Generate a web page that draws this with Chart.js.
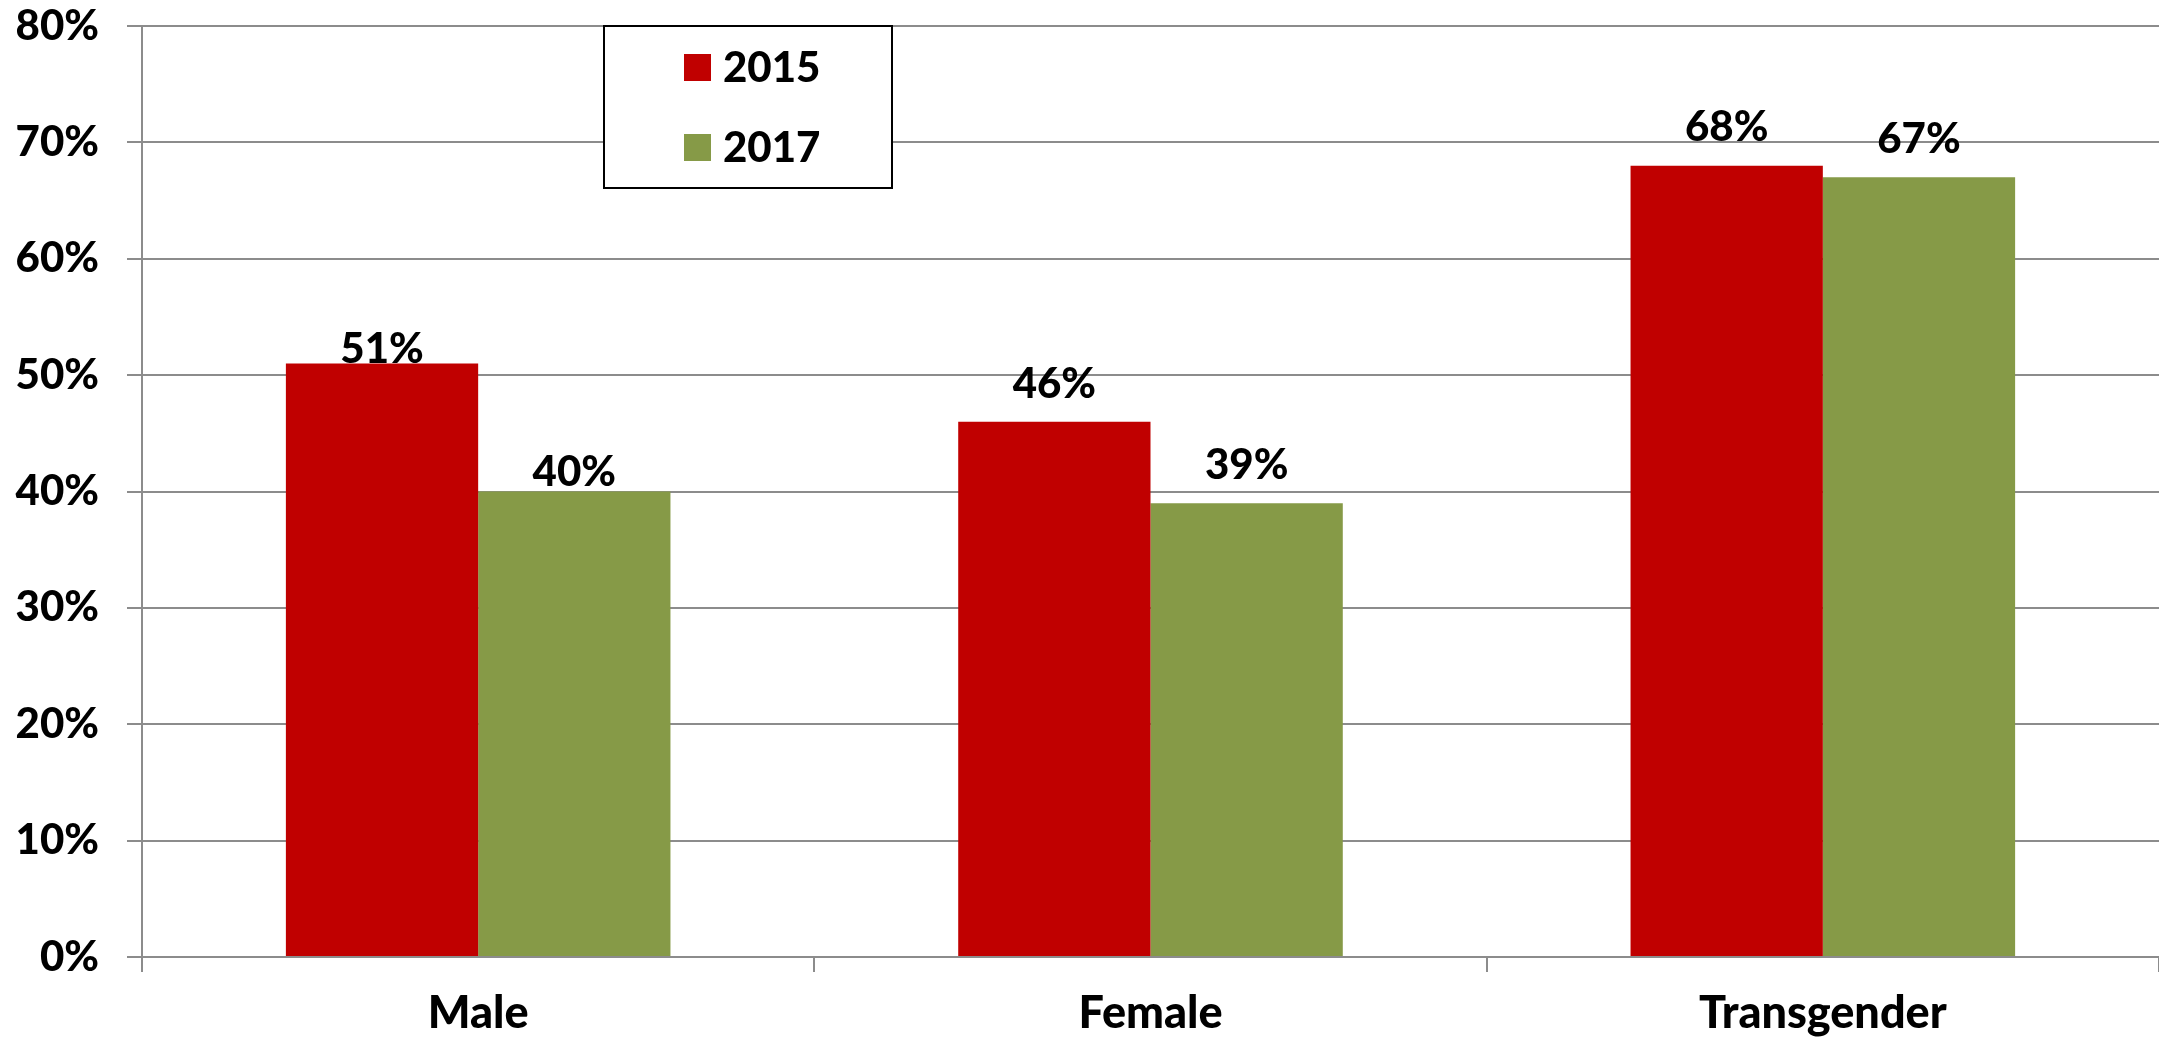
<!DOCTYPE html>
<html>
<head>
<meta charset="utf-8">
<script src="https://cdn.jsdelivr.net/npm/chart.js@4"></script>
<style>
  html, body { margin: 0; padding: 0; background: #fff; }
  #wrap { width: 2159px; height: 1041px; position: relative; }
</style>
</head>
<body>
<div id="wrap"><canvas id="chart"></canvas></div>
<script>
// data
const categories = ["Male", "Female", "Transgender"];
const series2015 = [51, 46, 68];
const series2017 = [40, 39, 67];
const seriesNames = ["2015", "2017"];
const yTicks = [0, 10, 20, 30, 40, 50, 60, 70, 80];

const FONT = "Lato, 'Open Sans', sans-serif";
const WEIGHT = "900";
const SIZE = 42;
const GRID = "#8c8c8c";

// value labels above each bar (Excel placed them a bit unevenly)
const valueLabels = {
  id: "valueLabels",
  afterDatasetsDraw(chart, args, opts) {
    const ctx = chart.ctx;
    ctx.save();
    ctx.font = WEIGHT + " " + SIZE + "px " + FONT;
    ctx.fillStyle = "#000";
    ctx.textAlign = "center";
    ctx.textBaseline = "alphabetic";
    chart.data.datasets.forEach((ds, di) => {
      const meta = chart.getDatasetMeta(di);
      meta.data.forEach((bar, i) => {
        const lift = opts.lift[di][i];
        ctx.fillText(ds.data[i] + "%", bar.x, bar.y - lift);
      });
    });
    ctx.restore();
  }
};

// boxed legend floating inside the plot, as in the original
const boxLegend = {
  id: "boxLegend",
  afterDraw(chart, args, opts) {
    const ctx = chart.ctx;
    const b = opts.box;
    ctx.save();
    ctx.fillStyle = "#fff";
    ctx.fillRect(b.x, b.y, b.w, b.h);
    ctx.strokeStyle = "#000";
    ctx.lineWidth = 2;
    ctx.strokeRect(b.x, b.y, b.w, b.h);
    ctx.font = WEIGHT + " " + SIZE + "px " + FONT;
    ctx.textBaseline = "middle";
    ctx.textAlign = "left";
    chart.data.datasets.forEach((ds, i) => {
      const cy = b.y + opts.rows[i];
      ctx.fillStyle = ds.backgroundColor;
      ctx.fillRect(b.x + 80, cy - 13, 27, 27);
      ctx.fillStyle = "#000";
      ctx.fillText(ds.label, b.x + 119, cy + 1);
    });
    ctx.restore();
  }
};

new Chart(document.getElementById("chart"), {
  type: "bar",
  data: {
    labels: categories,
    datasets: [
      { label: seriesNames[0], data: series2015, backgroundColor: "#c00000", borderWidth: 0 },
      { label: seriesNames[1], data: series2017, backgroundColor: "#869a47", borderWidth: 0 }
    ]
  },
  options: {
    responsive: true,
    maintainAspectRatio: false,
    animation: false,
    layout: { padding: { top: 26, right: 0, left: 0, bottom: 0 } },
    datasets: {
      bar: { categoryPercentage: 0.572, barPercentage: 1.0 }
    },
    plugins: {
      legend: { display: false },
      tooltip: { enabled: false },
      valueLabels: { lift: [[0, 24, 25], [6, 24, 24]] },
      boxLegend: { box: { x: 604, y: 26, w: 288, h: 162 }, rows: [41, 121] }
    },
    scales: {
      x: {
        grid: {
          offset: true,
          drawOnChartArea: false,
          drawTicks: true,
          tickLength: 15,
          color: GRID,
          lineWidth: 2
        },
        border: { display: true, color: GRID, width: 2 },
        ticks: {
          color: "#000",
          font: { family: FONT, size: 45, weight: WEIGHT },
          padding: 14
        },
        afterFit(scale) { scale.height = 84; scale.paddingLeft = 0; scale.paddingRight = 0; }
      },
      y: {
        min: 0,
        max: 80,
        afterBuildTicks(scale) { scale.ticks = yTicks.map(v => ({ value: v })); },
        grid: { color: GRID, lineWidth: 2, tickLength: 15 },
        border: { display: true, color: GRID, width: 2 },
        ticks: {
          color: "#000",
          font: { family: FONT, size: SIZE, weight: WEIGHT },
          padding: 28,
          callback: v => v + "%"
        },
        afterFit(scale) { scale.width = 142; scale.paddingTop = 0; scale.paddingBottom = 0; }
      }
    }
  },
  plugins: [valueLabels, boxLegend]
});
</script>
</body>
</html>
